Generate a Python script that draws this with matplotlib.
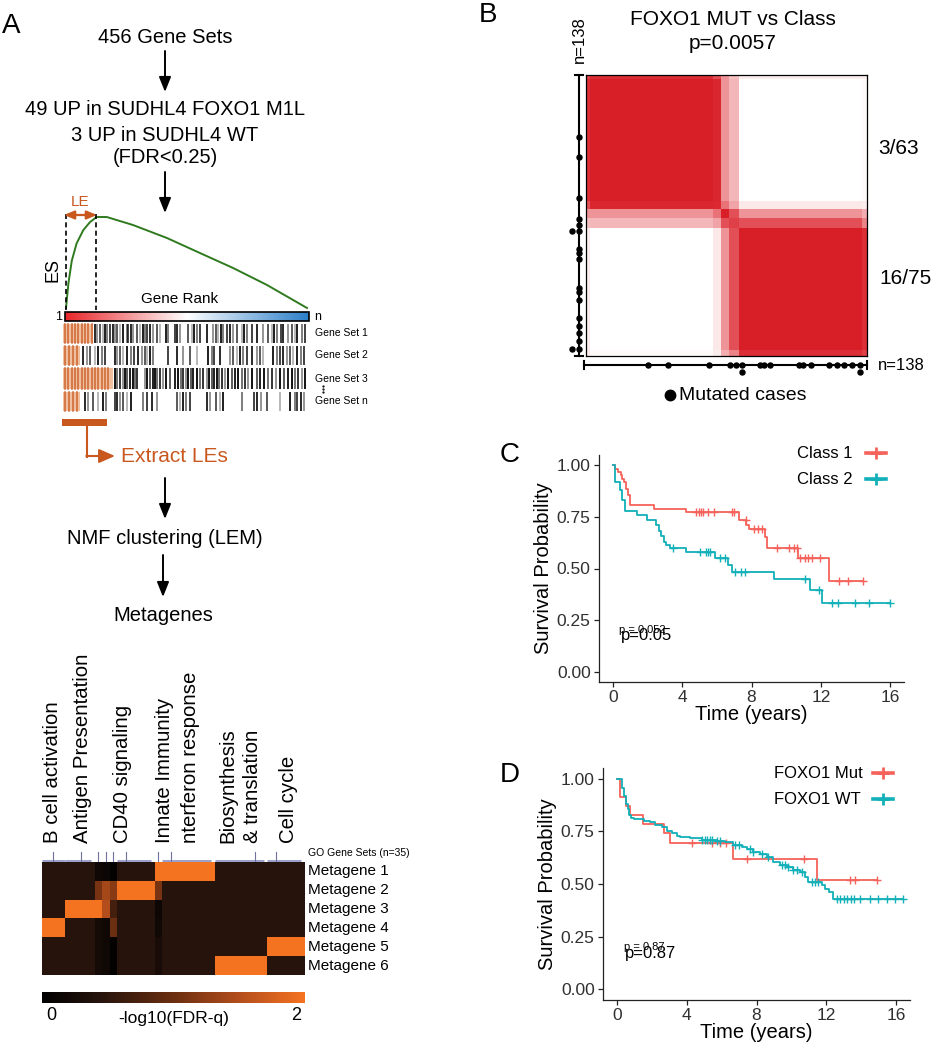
import numpy as np
import matplotlib
matplotlib.use('Agg')
import matplotlib.pyplot as plt
from matplotlib.colors import LinearSegmentedColormap
from matplotlib.patches import Rectangle

plt.rcParams['font.family'] = ['Liberation Sans', 'DejaVu Sans']

W, H = 931, 1050

# ---------------- data ----------------
# GSEA schematic running-sum curve (rank fraction, ES fraction)
es_rank = [0, 0.01, 0.024, 0.044, 0.072, 0.10, 0.127, 0.169, 0.278, 0.419, 0.556, 0.693, 0.834, 1.0]
es_val = [0, 0.27, 0.52, 0.71, 0.857, 0.945, 1.0, 1.0, 0.912, 0.769, 0.604, 0.44, 0.253, 0.0]

# barcode hits, % of gene rank
gs_names = ['Gene Set 1', 'Gene Set 2', 'Gene Set 3', 'Gene Set n']
gs_hits = [
    [13.1, 14.1, 15.2, 16.3, 17.2, 18.2, 19.3, 20.4, 21.3, 22.3, 23.4, 24.5, 26.1, 26.8, 27.7, 28.8,
     30.5, 31.6, 32.7, 33.6, 34.6, 35.7, 36.7, 38.7, 39.8, 42.2, 43.2, 45.9, 46.9, 48.0, 51.4, 52.7,
     53.7, 54.8, 56.1, 58.9, 61.6, 62.7, 63.7, 64.6, 65.7, 67.1, 68.4, 69.8, 71.2, 73.2, 74.2, 75.3,
     77.3, 79.4, 82.1, 84.2, 85.5, 86.5, 87.6, 89.2, 90.3, 92.3, 93.7, 95.1, 96.0, 97.8, 99.2],
    [8.3, 9.7, 11.1, 13.1, 14.5, 15.8, 17.2, 21.3, 22.3, 23.4, 24.7, 26.1, 27.7, 29.1, 30.9, 32.2,
     33.6, 34.6, 35.7, 37.0, 43.2, 46.9, 49.3, 52.0, 55.1, 59.6, 60.9, 61.9, 64.3, 68.4, 69.8, 71.2,
     72.5, 73.6, 75.3, 77.3, 79.6, 80.7, 82.1, 86.2, 87.6, 89.0, 90.3, 91.7, 93.0, 94.4, 96.0, 97.4, 98.8],
    [21.3, 22.3, 23.4, 24.5, 25.4, 26.4, 27.5, 28.6, 29.5, 30.5, 33.6, 34.6, 35.7, 36.7, 37.7, 38.7,
     39.8, 41.1, 42.2, 43.9, 45.9, 47.3, 48.2, 49.3, 50.4, 51.4, 52.3, 53.4, 54.8, 56.1, 57.5, 58.9,
     60.0, 60.9, 61.9, 63.0, 64.1, 65.0, 66.4, 67.8, 69.1, 70.5, 71.8, 73.2, 74.6, 75.9, 77.3, 79.4,
     80.7, 82.4, 84.2, 85.5, 87.3, 88.9, 90.6, 92.3, 93.7, 95.1, 96.4, 97.8, 99.2],
    [9.0, 10.4, 12.4, 14.5, 16.3, 17.6, 21.3, 22.3, 23.4, 24.7, 26.1, 27.7, 32.7, 34.3, 36.3, 38.4,
     46.6, 47.9, 49.3, 50.4, 52.0, 58.9, 60.2, 62.9, 64.3, 65.7, 73.2, 78.3, 79.6, 81.0, 83.5, 88.9,
     93.0, 95.1, 96.0, 97.4, 98.8],
]
le_end = [12.3, 7.0, 20.5, 7.0]
le_hits = [
    [0.8, 2.2, 3.5, 4.9, 6.3, 7.6, 9.0, 10.4, 11.7],
    [0.8, 2.5, 4.2, 5.8],
    [0.8, 2.2, 3.5, 4.9, 6.3, 7.6, 9.0, 10.4, 11.7, 13.1, 14.5, 15.8, 17.2, 18.6],
    [0.8, 2.5, 4.2, 5.8],
]

# LEM heatmap (-log10 FDR-q), 6 metagenes x 35 GO gene sets
bg = 0.45
metagene_names = ['Metagene 1', 'Metagene 2', 'Metagene 3', 'Metagene 4', 'Metagene 5', 'Metagene 6']
mg1 = [bg] * 7 + [0.2, 0.15, 0.05] + [bg] * 5 + [2.0] * 8 + [bg] * 12
mg2 = [bg] * 7 + [1.1, 1.4, 1.2] + [2.0] * 5 + [1.1] + [bg] * 19
mg3 = [bg] * 3 + [2.0] * 5 + [1.5, 0.7] + [bg] * 5 + [0.15] + [bg] * 19
mg4 = [2.0] * 3 + [bg] * 4 + [0.25, 0.2, 1.0] + [bg] * 5 + [0.2] + [bg] * 19
mg5 = [bg] * 7 + [0.25, 0.2, 0.05] + [bg] * 5 + [0.3] + [bg] * 14 + [2.0] * 5
mg6 = [bg] * 7 + [0.25, 0.2, 0.05] + [bg] * 5 + [0.3] + [bg] * 7 + [2.0] * 7 + [bg] * 5
go_labels = ['B cell activation', 'Antigen Presentation', 'CD40 signaling', 'Innate Immunity',
             'nterferon response', 'Biosynthesis', '& translation', 'Cell cycle']
go_spans = [(0, 3), (3, 6.5), (10, 14.5), (16, 22.5), (23, 29.5), (30, 34.5)]
go_ticks = [1.5, 5.2, 7.5, 8.5, 9.5, 11.2, 15.5, 17.2, 28.3, 31.2]

# consensus matrix (grouped samples, ordered)
group_sizes = [2, 60, 4, 4, 5, 60, 3]
group_consensus = [
    [0.80, 0.85, 0.75, 0.55, 0.35, 0.10, 0.10],
    [0.85, 1.00, 0.92, 0.55, 0.40, 0.00, 0.03],
    [0.75, 0.92, 0.90, 0.65, 0.50, 0.12, 0.10],
    [0.55, 0.55, 0.65, 1.00, 0.75, 0.55, 0.45],
    [0.35, 0.40, 0.50, 0.75, 0.80, 0.75, 0.60],
    [0.10, 0.00, 0.12, 0.55, 0.75, 1.00, 0.85],
    [0.10, 0.03, 0.10, 0.45, 0.60, 0.85, 0.80],
]
mutated_idx = [30, 40, 60, 70, 73, 76, 76, 85, 87, 90, 104, 106, 110, 119, 123, 126, 130, 134, 134]

# Kaplan-Meier, panel C
c1_t = [0, 0.15, 0.3, 0.45, 0.55, 0.65, 0.75, 0.85, 1.0, 2.35, 4.2, 7.25, 7.7, 7.85, 8.8, 8.9, 10.7, 12.45]
c1_s = [1.0, 0.984, 0.968, 0.952, 0.936, 0.919, 0.887, 0.855, 0.806, 0.79, 0.774, 0.734, 0.713, 0.69,
        0.655, 0.60, 0.553, 0.44]
c1_end = 14.45
c1_cens = [4.82, 4.95, 5.1, 5.2, 5.5, 5.83, 6.86, 7.0, 7.68, 8.15, 8.4, 8.63, 9.49, 10.19, 10.44, 10.62,
           10.82, 11.07, 11.26, 11.49, 11.96, 13.05, 13.58, 14.45]
c2_t = [0, 0.15, 0.4, 0.55, 0.7, 1.4, 1.95, 2.5, 2.65, 2.8, 2.95, 3.05, 3.3, 4.2, 5.9, 6.65, 6.9, 9.3,
        11.4, 12.05]
c2_s = [1.0, 0.919, 0.879, 0.83, 0.779, 0.758, 0.737, 0.71, 0.68, 0.656, 0.629, 0.613, 0.60, 0.58,
        0.552, 0.519, 0.484, 0.447, 0.398, 0.331]
c2_end = 16.0
c2_cens = [3.49, 5.01, 5.39, 5.49, 5.62, 6.2, 6.48, 7.07, 7.39, 7.64, 11.1, 11.87, 12.63, 12.97,
           13.96, 14.76, 16.0]

# Kaplan-Meier, panel D
d1_t = [0, 0.2, 0.53, 0.73, 1.47, 2.71, 3.02, 6.68, 11.49]
d1_s = [1.0, 0.913, 0.87, 0.826, 0.783, 0.74, 0.696, 0.62, 0.517]
d1_end = 14.9
d1_cens = [4.3, 5.44, 5.88, 6.26, 7.44, 10.73, 13.34, 13.63, 14.9]
d2_t = [0, 0.29, 0.42, 0.53, 0.61, 0.71, 0.80, 0.95, 1.56, 1.91, 2.19, 2.58, 2.86, 3.15, 3.44, 3.63,
        4.2, 4.87, 5.73, 6.2, 6.68, 7.16, 7.44, 7.82, 8.21, 8.59, 8.97, 9.35, 9.73, 10.11, 10.5,
        10.78, 10.97, 11.74, 11.93, 12.18, 12.4]
d2_s = [1.0, 0.956, 0.917, 0.88, 0.854, 0.826, 0.815, 0.807, 0.80, 0.792, 0.78, 0.768, 0.749, 0.74,
        0.729, 0.724, 0.718, 0.71, 0.705, 0.697, 0.687, 0.674, 0.666, 0.654, 0.643, 0.627, 0.603,
        0.588, 0.58, 0.567, 0.556, 0.533, 0.509, 0.494, 0.478, 0.462, 0.431]
d2_end = 16.41
d2_cens = [4.87, 5.06, 5.15, 5.34, 5.44, 5.73, 5.92, 6.77, 6.97, 7.63, 7.82, 8.3, 8.68, 9.45, 9.64,
           9.83, 10.11, 10.31, 10.59, 11.16, 11.35, 11.55, 12.6, 12.79, 13.02, 13.21, 13.4, 13.59,
           13.93, 14.5, 14.98, 15.46, 15.94, 16.41]

RED = '#F4625B'
TEAL = '#12B0B9'
ORANGE = '#C9581F'


def px_axes(fig, x0, y0, x1, y1):
    return fig.add_axes([x0 / W, 1 - y1 / H, (x1 - x0) / W, (y1 - y0) / H])


def down_arrow(ax, x, y0, y1, color='k'):
    ax.annotate('', xy=(x, y1), xytext=(x, y0),
                arrowprops=dict(arrowstyle='-|>,head_length=0.75,head_width=0.3', color=color,
                                lw=1.4, shrinkA=0, shrinkB=0, mutation_scale=12))


def km_draw(ax, t, s, t_end, cens, color):
    ax.step(list(t) + [t_end], list(s) + [s[-1]], where='post', color=color, lw=1.3)
    idx = np.searchsorted(t, cens, side='right') - 1
    ax.plot(cens, np.array(s)[idx], ls='none', marker='+', color=color, ms=6, mew=1.0)


def km_axes(ax):
    ax.patch.set_visible(False)
    ax.set_xlim(-0.8, 16.8)
    ax.set_ylim(-0.05, 1.05)
    ax.set_xticks([0, 4, 8, 12, 16])
    ax.set_yticks([0, 0.25, 0.5, 0.75, 1.0])
    ax.set_yticklabels(['0.00', '0.25', '0.50', '0.75', '1.00'])
    for sp in ['top', 'right']:
        ax.spines[sp].set_visible(False)
    for sp in ['left', 'bottom']:
        ax.spines[sp].set_linewidth(0.9)
        ax.spines[sp].set_color('#222222')
    ax.tick_params(length=3.5, width=0.9, color='#222222', labelsize=12.5, labelcolor='#303030',
                   pad=2.5)
    ax.set_xlabel('Time (years)', fontsize=14.5, labelpad=0)
    ax.set_ylabel('Survival Probability', fontsize=14.5, labelpad=3)


fig = plt.figure(figsize=(W / 100, H / 100), dpi=100)
ax0 = px_axes(fig, 0, 0, W, H)
ax0.axis('off')

# ---------------- panel A: flow ----------------
ax0.text(2, 33, 'A', fontsize=20)
ax0.text(165, 43, '456 Gene Sets', fontsize=14.5, ha='center')
down_arrow(ax0, 165, 51, 92)
ax0.text(165, 115, '49 UP in SUDHL4 FOXO1 M1L', fontsize=14.5, ha='center')
ax0.text(165, 141, '3 UP in SUDHL4 WT', fontsize=14.5, ha='center')
ax0.text(165, 163, '(FDR<0.25)', fontsize=14.5, ha='center')
down_arrow(ax0, 165, 172, 213)

# GSEA curve
ex = [66 + r * 241 for r in es_rank]
ey = [308 - v * 91 for v in es_val]
ax0.plot(ex, ey, color='#2F7A1F', lw=1.4)
ax0.plot([66, 66], [214, 310], 'k--', lw=1.2, dashes=(3, 2))
ax0.plot([96, 96], [214, 310], 'k--', lw=1.2, dashes=(3, 2))
ax0.annotate('', xy=(97, 215), xytext=(64, 215),
             arrowprops=dict(arrowstyle='<|-|>,head_length=0.6,head_width=0.25', color=ORANGE,
                             lw=1.6, shrinkA=0, shrinkB=0, mutation_scale=10))
ax0.text(80, 206, 'LE', color=ORANGE, fontsize=11, ha='center')
ax0.text(53, 270, 'ES', fontsize=13, rotation=90, ha='center', va='center')
ax0.text(180, 303, 'Gene Rank', fontsize=11, ha='center')

# rank gradient bar
grad_cmap = LinearSegmentedColormap.from_list('rank', ['#E8262A', '#FFFFFF', '#2B7FC9'])
ax0.imshow(np.linspace(0, 1, 256)[None, :], cmap=grad_cmap, aspect='auto',
           extent=(65, 309, 321, 312), zorder=2)
ax0.add_patch(Rectangle((65, 312), 244, 9, fill=False, ec='k', lw=1.2, zorder=3))
ax0.text(62, 317, '1', fontsize=9, ha='right', va='center')
ax0.text(314, 317, 'n', fontsize=9, ha='left', va='center')

rows_y = [(324, 343), (346, 365), (368, 389), (392, 411)]
gray_cycle = [0.9, 0.45, 0.7, 0.3, 0.95, 0.55, 0.8]
for r, (y0, y1) in enumerate(rows_y):
    lw_end = 63 + le_end[r] / 100 * 244
    ax0.add_patch(Rectangle((63, y0), lw_end - 63, y1 - y0, color='#EBAA80', alpha=0.75, lw=0))
    for j, p in enumerate(le_hits[r]):
        ax0.plot([63 + p / 100 * 244] * 2, [y0, y1], color=ORANGE, lw=1.2, alpha=0.8)
    for j, p in enumerate(gs_hits[r]):
        a = gray_cycle[j % len(gray_cycle)]
        if r == 2:
            a = min(1.0, a + 0.15)
        ax0.plot([63 + p / 100 * 244] * 2, [y0, y1], color='k', lw=1.3, alpha=a,
                 solid_capstyle='butt')
    ax0.text(315, (y0 + y1) / 2, gs_names[r], fontsize=7.5, va='center')
ax0.plot([322.5] * 3, [386, 389, 392], 'k.', ms=1.2)

ax0.add_patch(Rectangle((62, 419), 45, 7, color=ORANGE, lw=0))
ax0.plot([87, 87], [426, 456.5], color=ORANGE, lw=1.5)
ax0.annotate('', xy=(115, 456), xytext=(86.3, 456),
             arrowprops=dict(arrowstyle='-|>,head_length=0.8,head_width=0.35', color=ORANGE,
                             lw=1.5, shrinkA=0, shrinkB=0, mutation_scale=12))
ax0.text(121, 462, 'Extract LEs', color=ORANGE, fontsize=15)

down_arrow(ax0, 165, 478, 519)
ax0.text(165, 544, 'NMF clustering (LEM)', fontsize=14.5, ha='center')
down_arrow(ax0, 163, 555, 597)
ax0.text(163, 621, 'Metagenes', fontsize=14.5, ha='center')

# ---------------- panel A: LEM heatmap ----------------
hm_x0, hm_x1, hm_y0, hm_y1 = 42, 305, 862, 975
fdr_cmap = LinearSegmentedColormap.from_list(
    'fdr', [(0, '#000000'), (0.22, '#25130C'), (0.5, '#6A2E10'), (0.75, '#B34D1C'), (1, '#F47321')])
axh = px_axes(fig, hm_x0, hm_y0, hm_x1, hm_y1)
lem = np.array([mg1, mg2, mg3, mg4, mg5, mg6])
im = axh.imshow(lem, cmap=fdr_cmap, vmin=0, vmax=2, aspect='auto', interpolation='nearest')
axh.axis('off')

cw = (hm_x1 - hm_x0) / lem.shape[1]
rh = (hm_y1 - hm_y0) / lem.shape[0]
for k, name in enumerate(metagene_names):
    ax0.text(308, hm_y0 + (k + 0.5) * rh, name, fontsize=11, va='center')
ax0.text(308, 853, 'GO Gene Sets (n=35)', fontsize=7.5, va='center')
for a, b in go_spans:
    ax0.plot([hm_x0 + a * cw, hm_x0 + b * cw], [860.5, 860.5], color='#9CA2CC', lw=2.2,
             solid_capstyle='butt')
for c in go_ticks:
    ax0.plot([hm_x0 + c * cw] * 2, [852, 861], color='#6E72A0', lw=0.8)

go_label_x = [52, 83, 123, 165, 191, 228, 253, 288]
for lab, x in zip(go_labels, go_label_x):
    ax0.text(x, 843, lab, rotation=90, fontsize=14.7, ha='center', va='bottom')

cax = px_axes(fig, 42, 992, 305, 1003)
cb = fig.colorbar(im, cax=cax, orientation='horizontal')
cb.set_ticks([])
cb.outline.set_visible(False)
ax0.text(51, 1016, '0', fontsize=13, ha='center', va='center')
ax0.text(296, 1016, '2', fontsize=13, ha='center', va='center')
ax0.text(174, 1018, '-log10(FDR-q)', fontsize=12.5, ha='center', va='center')

# ---------------- panel B ----------------
ax0.text(479, 22, 'B', fontsize=20)
ax0.text(733, 25, 'FOXO1 MUT vs Class', fontsize=15, ha='center')
ax0.text(733, 49, 'p=0.0057', fontsize=15, ha='center')

bx0, bx1, by0, by1 = 586, 867, 75, 356
labels = np.repeat(np.arange(len(group_sizes)), group_sizes)
cons = np.array(group_consensus)[labels][:, labels]
n = len(labels)
cons_cmap = LinearSegmentedColormap.from_list(
    'cons', [(0, '#FFFFFF'), (0.5, '#F2A5A8'), (0.85, '#DC2F37'), (1, '#D81F27')])
axb = px_axes(fig, bx0, by0, bx1, by1)
axb.imshow(cons, cmap=cons_cmap, vmin=0, vmax=1, aspect='auto', interpolation='nearest')
axb.set_xticks([])
axb.set_yticks([])
for sp in axb.spines.values():
    sp.set_linewidth(0.9)

step = (bx1 - bx0) / n
ax0.plot([579, 579], [by0, by1], 'k', lw=1.5)
ax0.plot([575, 583], [by0, by0], 'k', lw=1.5)
ax0.plot([575, 583], [by1, by1], 'k', lw=1.5)
ax0.plot([584, bx1], [365, 365], 'k', lw=1.5)
ax0.plot([584, 584], [361, 369], 'k', lw=1.5)
ax0.plot([bx1, bx1], [361, 369], 'k', lw=1.5)
seen = {}
for i in mutated_idx:
    k = seen.get(i, 0)
    seen[i] = k + 1
    ax0.plot(579 - 7 * k, by0 + (i + 0.5) * step, 'ko', ms=3.6)
    ax0.plot(bx0 + (i + 0.5) * step, 365 + 7 * k, 'ko', ms=3.6)
ax0.text(579, 40, 'n=138', fontsize=12, rotation=90, ha='center', va='center')
ax0.text(878, 365, 'n=138', fontsize=12, va='center')
ax0.text(878, 148, '3/63', fontsize=15, va='center')
ax0.text(879, 278, '16/75', fontsize=15, va='center')
ax0.plot(670, 395, 'ko', ms=7.5)
ax0.text(679, 395, 'Mutated cases', fontsize=14, va='center')

# ---------------- panel C ----------------
ax0.text(500, 462, 'C', fontsize=20)
axc = px_axes(fig, 599, 455, 904, 682)
km_draw(axc, c1_t, c1_s, c1_end, c1_cens, RED)
km_draw(axc, c2_t, c2_s, c2_end, c2_cens, TEAL)
km_axes(axc)
axc.text(0.35, 0.2, 'p = 0.052', fontsize=8, va='center')
axc.text(0.45, 0.175, 'p=0.05', fontsize=12, va='center')
for name, col, y in [('Class 1', RED, 453), ('Class 2', TEAL, 479)]:
    ax0.text(797, y, name, fontsize=12, va='center')
    ax0.plot([866, 886], [y, y], color=col, lw=2.6)
    ax0.plot(876, y, marker='+', color=col, ms=8, mew=2)

# ---------------- panel D ----------------
ax0.text(500, 782, 'D', fontsize=20)
axd = px_axes(fig, 603, 768, 910, 1000)
km_draw(axd, d1_t, d1_s, d1_end, d1_cens, RED)
km_draw(axd, d2_t, d2_s, d2_end, d2_cens, TEAL)
km_axes(axd)
axd.text(0.4, 0.2, 'p = 0.87', fontsize=8, va='center')
axd.text(0.45, 0.172, 'p=0.87', fontsize=12, va='center')
for name, col, y in [('FOXO1 Mut', RED, 773), ('FOXO1 WT', TEAL, 799)]:
    ax0.text(774, y, name, fontsize=12, va='center')
    ax0.plot([873, 893], [y, y], color=col, lw=2.6)
    ax0.plot(883, y, marker='+', color=col, ms=8, mew=2)

ax0.set_xlim(0, W)
ax0.set_ylim(H, 0)

fig.savefig('out.png', dpi=100)
